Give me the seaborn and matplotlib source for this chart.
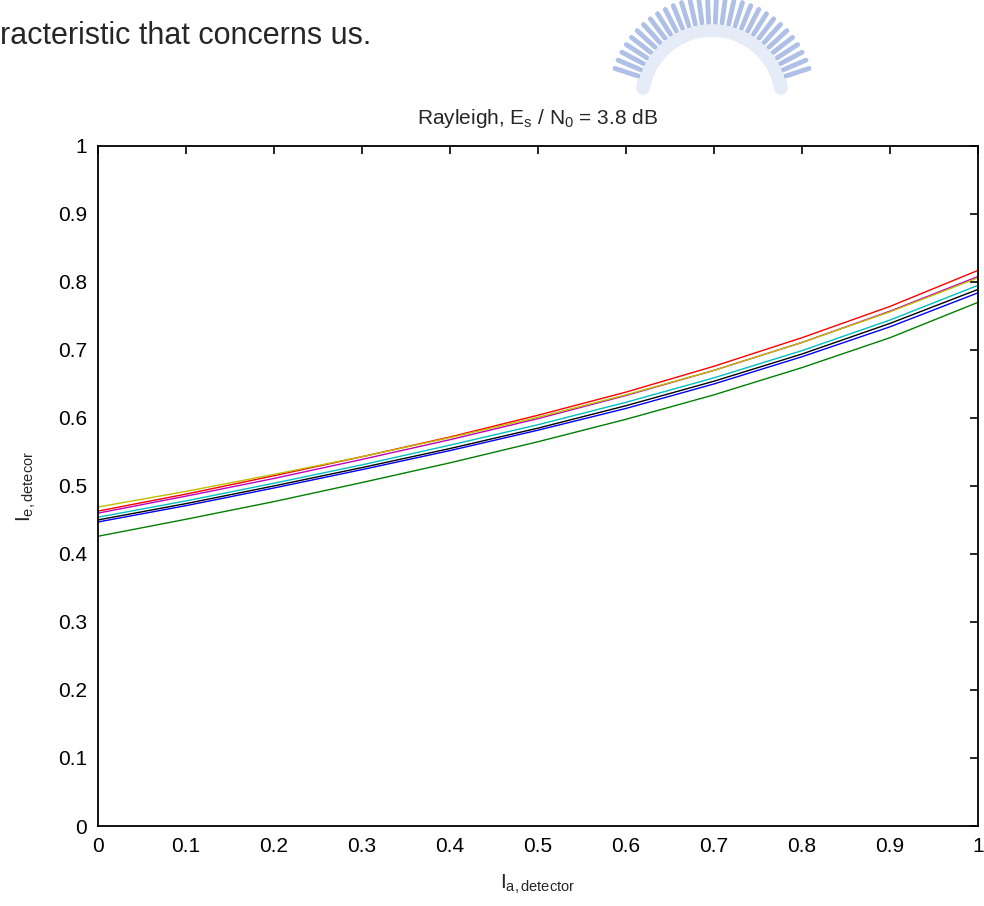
import numpy as np
import pandas as pd
import seaborn as sns
import matplotlib.pyplot as plt
from matplotlib.lines import Line2D

# readings of the curves at Ia = 0, 0.1, ..., 1
ia = [0.0, 0.1, 0.2, 0.3, 0.4, 0.5, 0.6, 0.7, 0.8, 0.9, 1.0]
ie_blue = [0.447, 0.471, 0.497, 0.524, 0.552, 0.582, 0.614, 0.650, 0.690, 0.734, 0.784]
ie_green = [0.426, 0.451, 0.477, 0.505, 0.534, 0.565, 0.598, 0.634, 0.674, 0.718, 0.770]
ie_red = [0.463, 0.488, 0.515, 0.543, 0.572, 0.604, 0.638, 0.676, 0.718, 0.764, 0.817]
ie_cyan = [0.454, 0.478, 0.504, 0.531, 0.560, 0.590, 0.623, 0.659, 0.699, 0.744, 0.795]
ie_magenta = [0.460, 0.485, 0.511, 0.539, 0.568, 0.599, 0.633, 0.670, 0.711, 0.757, 0.808]
ie_yellow = [0.469, 0.492, 0.517, 0.543, 0.571, 0.601, 0.634, 0.670, 0.711, 0.756, 0.806]
ie_black = [0.450, 0.474, 0.500, 0.527, 0.555, 0.585, 0.618, 0.654, 0.694, 0.739, 0.789]

curves = {
    "b": ie_blue,
    "g": ie_green,
    "r": ie_red,
    "c": ie_cyan,
    "m": ie_magenta,
    "y": ie_yellow,
    "k": ie_black,
}
colors = {"b": "#0000ff", "g": "#008000", "r": "#ff0000", "c": "#00bfbf",
          "m": "#bf00bf", "y": "#bfbf00", "k": "#000000"}

rows = []
for name, vals in curves.items():
    for x, v in zip(ia, vals):
        rows.append({"Ia": x, "Ie": v, "curve": name})
data = pd.DataFrame(rows)

sns.set_style("white")
plt.rcParams["font.family"] = ["Liberation Sans", "DejaVu Sans"]
plt.rcParams["mathtext.fontset"] = "custom"
plt.rcParams["mathtext.rm"] = "Liberation Sans"
plt.rcParams["mathtext.it"] = "Liberation Sans"

fig = plt.figure(figsize=(9.84, 9.06), dpi=100)
ax = fig.add_axes([0.0996, 0.0883, 0.8944, 0.7507])

sns.lineplot(data=data, x="Ia", y="Ie", hue="curve", palette=colors,
             legend=False, linewidth=1.0, ax=ax)

ax.set_xlim(0, 1)
ax.set_ylim(0, 1)
ax.set_xticks(np.arange(0, 1.01, 0.1))
ax.set_yticks(np.arange(0, 1.01, 0.1))
ax.set_xticklabels(["0", "0.1", "0.2", "0.3", "0.4", "0.5", "0.6", "0.7", "0.8", "0.9", "1"])
ax.set_yticklabels(["0", "0.1", "0.2", "0.3", "0.4", "0.5", "0.6", "0.7", "0.8", "0.9", "1"])
ax.tick_params(direction="in", length=6, width=1.2, top=True, right=True,
               labelsize=15, pad=8, colors="black")
for s in ax.spines.values():
    s.set_color("black")
    s.set_linewidth(1.3)

ax.set_xlabel(r"I$_\mathrm{a,detector}$", fontsize=15, labelpad=12)
ax.set_ylabel(r"I$_\mathrm{e,detecor}$", fontsize=15, labelpad=14)
ax.set_title(r"Rayleigh, E$_\mathrm{s}$ / N$_\mathrm{0}$ = 3.8 dB", fontsize=15, pad=16)

# text of the scanned page above the figure
fig.text(0.0, 1 - 36 / 906, "racteristic that concerns us.", fontsize=22,
         va="center", ha="left")

# faint watermark logo (arc of radial dashes over a pale band)
cx, cy = 712 / 984, 1 - 100 / 906
arc = np.linspace(np.radians(10), np.radians(170), 80)
fig.add_artist(Line2D(cx + 70 * np.cos(arc) / 984, cy + 70 * np.sin(arc) / 906,
                      transform=fig.transFigure, color="#dbe3f5", linewidth=10, alpha=0.7))
for ang in np.linspace(np.radians(18), np.radians(162), 30):
    r0, r1 = 78, 102
    x0 = cx + r0 * np.cos(ang) / 984
    y0 = cy + r0 * np.sin(ang) / 906
    x1 = cx + r1 * np.cos(ang) / 984
    y1 = cy + r1 * np.sin(ang) / 906
    fig.add_artist(Line2D([x0, x1], [y0, y1], transform=fig.transFigure,
                          color="#8ea6dc", linewidth=3.5, alpha=0.7))

fig.savefig("out.png", dpi=100)
